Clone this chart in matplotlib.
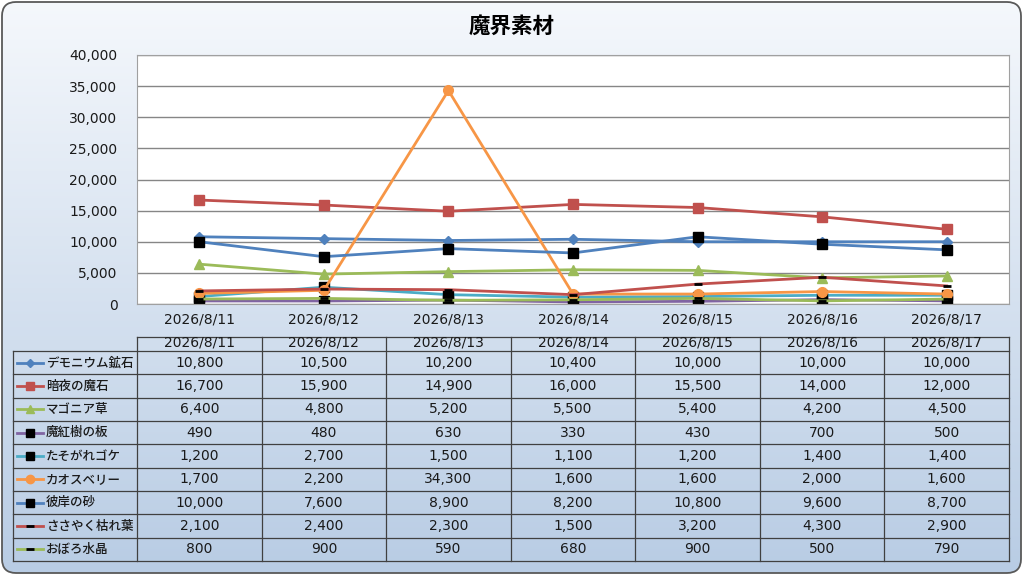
import numpy as np
import matplotlib
matplotlib.use('Agg')
import matplotlib.pyplot as plt
from matplotlib.patches import FancyBboxPatch
from matplotlib.lines import Line2D

plt.rcParams['font.family'] = ['DejaVu Sans', 'Noto Sans CJK JP']
JP = ['Noto Sans CJK JP', 'DejaVu Sans']

title = '魔界素材'
dates = ['2026/8/11', '2026/8/12', '2026/8/13', '2026/8/14', '2026/8/15', '2026/8/16', '2026/8/17']
names = ['デモニウム鉱石', '暗夜の魔石', 'マゴニア草', '魔紅樹の板', 'たそがれゴケ',
         'カオスベリー', '彼岸の砂', 'ささやく枯れ葉', 'おぼろ水晶']

demonium = [10800, 10500, 10200, 10400, 10000, 10000, 10000]
anya = [16700, 15900, 14900, 16000, 15500, 14000, 12000]
magonia = [6400, 4800, 5200, 5500, 5400, 4200, 4500]
makoju = [490, 480, 630, 330, 430, 700, 500]
tasogare = [1200, 2700, 1500, 1100, 1200, 1400, 1400]
chaosberry = [1700, 2200, 34300, 1600, 1600, 2000, 1600]
higan = [10000, 7600, 8900, 8200, 10800, 9600, 8700]
sasayaku = [2100, 2400, 2300, 1500, 3200, 4300, 2900]
oboro = [800, 900, 590, 680, 900, 500, 790]
series = [demonium, anya, magonia, makoju, tasogare, chaosberry, higan, sasayaku, oboro]

# 線の色, マーカー, マーカー色, サイズ
styles = [
    ('#4f81bd', 'D', '#4f81bd', 5),
    ('#c0504d', 's', '#c0504d', 7),
    ('#9bbb59', '^', '#9bbb59', 7),
    ('#8064a2', 's', 'black', 7),
    ('#4bacc6', 's', 'black', 7),
    ('#f79646', 'o', '#f79646', 7),
    ('#4f81bd', 's', 'black', 7),
    ('#c0504d', '_', 'black', 6),
    ('#9bbb59', '_', 'black', 6),
]

W, H = 1024, 576
fig = plt.figure(figsize=(W / 100, H / 100), dpi=100)

# 背景（グラデーション + 角丸枠）
bg = fig.add_axes([0, 0, 1, 1])
bg.set_xlim(0, W)
bg.set_ylim(H, 0)
bg.axis('off')
frame = FancyBboxPatch((2, 2), W - 5, H - 5, boxstyle='round,pad=0,rounding_size=14',
                       facecolor='none', edgecolor='#595959', linewidth=1.3, zorder=3)
bg.add_patch(frame)
top = np.array([0xf5, 0xf8, 0xfc]) / 255
bottom = np.array([0xb8, 0xcc, 0xe4]) / 255
t = np.linspace(0, 1, 256)[:, None]
grad = (top + (bottom - top) * t)[:, None, :]
img = bg.imshow(grad, extent=[0, W, H, 0], aspect='auto', zorder=1)
img.set_clip_path(frame)

# グラフ本体
left, right, ptop, pbot = 137, 1009, 55, 304
ax = fig.add_axes([left / W, 1 - pbot / H, (right - left) / W, (pbot - ptop) / H])
ax.set_facecolor('white')
x = np.arange(len(dates))
for vals, (lc, mk, mc, ms) in zip(series, styles):
    ax.plot(x, vals, color=lc, linewidth=2, marker=mk, markersize=ms,
            markerfacecolor=mc, markeredgecolor=mc, markeredgewidth=2 if mk == '_' else 1)
ax.set_xlim(-0.5, len(dates) - 0.5)
ax.set_ylim(0, 40000)
ax.set_yticks(range(0, 40001, 5000))
ax.set_yticklabels([f'{v:,}' for v in range(0, 40001, 5000)])
ax.set_xticks(x)
ax.set_xticklabels(dates)
ax.tick_params(length=0, labelsize=10, colors='#1a1a1a')
ax.tick_params(axis='y', pad=14)
ax.tick_params(axis='x', pad=6)
ax.grid(axis='y', color='#868686', linewidth=1)
ax.set_axisbelow(True)
for s in ax.spines.values():
    s.set_color('#a0a0a0')

fig.text(0.5, 1 - 26 / H, title, ha='center', va='center', fontsize=15.5,
         fontweight='bold', family=JP)

# データテーブル
tleft = 13
hdr_top, hdr_bot = 337, 351
row_h = (561 - 351) / len(names)
col_w = (right - left) / len(dates)
lc_tab = '#404040'
lw_tab = 0.9
rows_bottom = hdr_bot + row_h * len(names)

bg.plot([left, right], [hdr_top, hdr_top], color=lc_tab, lw=lw_tab, zorder=4)
for j in range(len(dates) + 1):
    xx = left + j * col_w
    bg.plot([xx, xx], [hdr_top, rows_bottom], color=lc_tab, lw=lw_tab, zorder=4)
bg.plot([tleft, tleft], [hdr_bot, rows_bottom], color=lc_tab, lw=lw_tab, zorder=4)
for i in range(len(names) + 1):
    yy = hdr_bot + i * row_h
    bg.plot([tleft, right], [yy, yy], color=lc_tab, lw=lw_tab, zorder=4)
for j, d in enumerate(dates):
    bg.text(left + (j + 0.5) * col_w, hdr_top + 6, d, ha='center', va='center',
            fontsize=10, color='#1a1a1a', zorder=5)

for i, (name, vals, (lc, mk, mc, ms)) in enumerate(zip(names, series, styles)):
    cy = hdr_bot + (i + 0.5) * row_h
    bg.add_line(Line2D([17, 43], [cy, cy], color=lc, linewidth=2, zorder=5))
    bg.add_line(Line2D([30], [cy], marker=mk, markersize=ms - 1 if mk != '_' else 6,
                       markerfacecolor=mc, markeredgecolor=mc,
                       markeredgewidth=2 if mk == '_' else 1, zorder=6))
    bg.text(46, cy, name, ha='left', va='center', fontsize=9, fontweight='medium',
            color='#1a1a1a', zorder=5, family=JP)
    for j, v in enumerate(vals):
        bg.text(left + (j + 0.5) * col_w, cy, f'{v:,}', ha='center', va='center',
                fontsize=10, color='#1a1a1a', zorder=5)

fig.savefig('out.png', dpi=100)
